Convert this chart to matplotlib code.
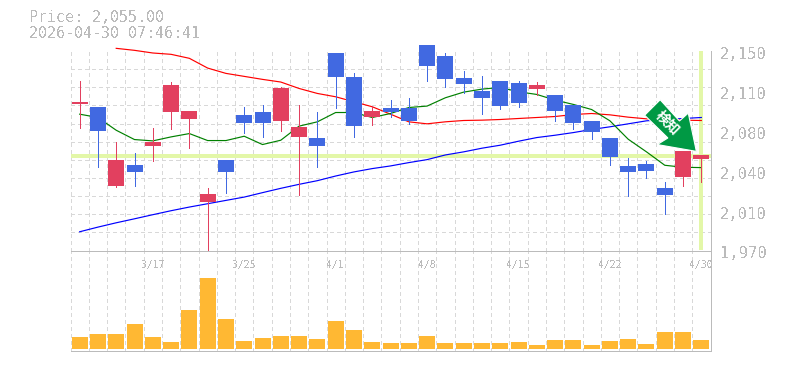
import numpy as np
import matplotlib
matplotlib.use('Agg')
import matplotlib.pyplot as plt
from matplotlib.patches import Polygon
from matplotlib.transforms import Affine2D, ScaledTranslation

plt.rcParams['text.antialiased'] = False
MONO = ['DejaVu Sans Mono']
GREY = '#bbbbbb'
GRID = '#d8d8d8'
UP = '#e2405f'
DOWN = '#4169e1'
VOLC = '#ffb833'
MARK = '#e3f7a8'

title_price = 'Price: 2,055.00'
title_time = '2026-04-30 07:46:41'
last_price = 2055

kinds = ['r','b','r','b','r','r','r','r','b','b','b','r','r','b','b','b','r','b',
         'b','b','b','b','b','b','b','r','b','b','b','b','b','b','b','r','r']
tops = [2103.9,2099.3,2051.4,2046.9,2067.7,2119.2,2095.7,2020.7,2051.4,2092.1,2094.8,2116.5,2081.3,2071.3,2148.2,2126.5,2095.7,2098.4,
        2098.4,2155.4,2145.5,2125.6,2113.8,2122.9,2121.1,2119.3,2110.2,2101.2,2086.7,2071.3,2046.0,2047.8,2026.1,2059.6,2055.9]
bottoms = [2102.1,2077.6,2027.9,2040.6,2064.1,2094.8,2088.5,2013.4,2040.6,2084.9,2084.9,2086.7,2072.2,2064.1,2126.5,2082.2,2090.3,2095.1,
           2086.4,2136.4,2124.7,2120.2,2107.5,2100.3,2103.0,2115.6,2095.7,2084.9,2076.7,2054.1,2040.6,2041.5,2019.8,2036.0,2052.3]
highs = [2122.9,2099.3,2067.7,2057.7,2080.4,2122.0,2095.7,2026.1,2051.4,2099.3,2101.1,2117.1,2101.1,2094.8,2148.2,2130.1,2100.2,2105.7,
         2107.5,2155.4,2148.2,2131.9,2127.4,2122.9,2122.9,2122.0,2110.2,2101.2,2086.7,2071.3,2053.2,2050.5,2031.5,2059.6,2055.9]
lows = [2080.4,2045.1,2027.0,2027.9,2050.5,2079.5,2062.3,1970.0,2021.6,2075.8,2072.2,2077.6,2019.8,2045.1,2098.4,2072.2,2083.1,2090.3,
        2084.0,2122.9,2117.4,2112.0,2093.0,2097.5,2099.4,2110.2,2086.7,2079.2,2070.4,2046.9,2018.9,2035.1,2002.6,2027.9,2031.5]
volumes = [12,15,15,25,12,7,39,71,30,8,11,13,13,10,28,19,7,6,
           6,13,6,6,6,6,7,4,9,9,4,8,10,5,17,17,9]

ma_green = [2093.0,2090.0,2078.5,2070.1,2068.9,2072.5,2075.5,2069.2,2069.2,2073.1,2065.6,2069.5,2082.2,2086.1,2094.5,2094.5,2090.0,2093.6,
            2099.0,2100.3,2107.8,2112.9,2115.6,2117.1,2113.2,2110.8,2105.7,2101.8,2097.2,2087.0,2070.4,2059.0,2046.9,2045.1,2044.8]
ma_red = [2152.4,2150.6,2148.2,2147.0,2143.4,2134.6,2129.8,2127.1,2124.4,2122.0,2116.2,2111.7,2108.7,2104.2,2099.7,2093.0,
          2086.1,2084.3,2086.1,2087.3,2087.6,2088.2,2089.1,2090.0,2090.9,2092.7,2093.6,2092.4,2090.3,2088.8,2087.9,2087.6,2087.3]
ma_blue = [1986.9,1991.1,1995.0,1998.6,2002.3,2005.9,2009.2,2012.2,2015.2,2018.2,2022.2,2026.1,2029.7,2033.0,2037.2,2040.9,2043.9,2046.3,
           2049.3,2052.0,2056.2,2059.0,2062.3,2065.0,2068.6,2071.9,2074.0,2076.4,2079.2,2081.6,2084.3,2087.0,2088.2,2089.1,2090.0]

date_idx = [4, 9, 14, 19, 24, 29, 34]
date_labels = ['3/17', '3/25', '4/1', '4/8', '4/15', '4/22', '4/30']
ytick_pos = [2150, 2114, 2078, 2042, 2006, 1970]
ytick_labels = ['2,150', '2,110', '2,080', '2,040', '2,010', '1,970']
badge_text = '検知'

W, H = 785, 370
fig = plt.figure(figsize=(W/100, H/100), dpi=100)
L, R = 70.5, 710.5
ax = fig.add_axes([L/W, 1-250.5/H, (R-L)/W, 199.5/H])
av = fig.add_axes([L/W, 1-350.5/H, (R-L)/W, 100/H])
ax.set_zorder(3); ax.patch.set_visible(False)
n = len(kinds)
x = np.arange(n)
px = 0.72
thin = 0.85

for a in (ax, av):
    a.set_xlim(-0.5, n-0.5)
    a.set_xticks(x-0.5, minor=True)
    a.grid(True, which='minor', axis='x', color=GRID, lw=px, ls=(0, (4, 4)), antialiased=False)
    a.set_axisbelow(True)
    a.tick_params(which='both', length=0)
    for s in ('left', 'top'):
        a.spines[s].set_visible(False)
    for s in ('right', 'bottom'):
        a.spines[s].set_color(GREY)
        a.spines[s].set_linewidth(px)

ax.set_ylim(1970, 2150)
ax.set_yticks(np.linspace(1970, 2150, 12), minor=True)
ax.grid(True, which='minor', axis='y', color=GRID, lw=px, ls=(0, (4, 4)), antialiased=False)

# price marker lines
ax.axhline(last_price, color=MARK, lw=1.7, zorder=1.5, solid_capstyle='butt', antialiased=False)
ax.plot([n-1, n-1], [1970, 2150], color=MARK, lw=1.7, zorder=1.5, solid_capstyle='butt', antialiased=False)

# moving averages
ax.plot(x, ma_blue, color='#0000ff', lw=thin, zorder=2, clip_on=False)
ax.plot(x[2:], ma_red, color='#ff0000', lw=thin, zorder=2, clip_on=False)

# candles
cols = [UP if k == 'r' else DOWN for k in kinds]
ax.plot(x, ma_green, color='#008000', lw=thin, zorder=2.5, clip_on=False)
ax.vlines(x, lows, highs, colors=cols, lw=px, zorder=3, clip_on=False, antialiased=False)
ax.bar(x, np.array(tops)-np.array(bottoms), bottom=bottoms, width=0.875, color=cols,
       zorder=3, clip_on=False, lw=0)

# badge arrow, pixel offsets from its tip, which is anchored on the chart
outline = [(-35.7, -51.2), (-51.2, -35.7), (-28, -13), (-38.6, -6.4), (0.5, 0.4), (-7.6, -37.9), (-16.4, -30)]
tip = (33.7, 2059.8)
tr = Affine2D().scale(1, -1) + ScaledTranslation(tip[0], tip[1], ax.transData)
ax.add_patch(Polygon(outline, closed=True, transform=tr, facecolor='#009944',
                     edgecolor='white', lw=0.8, zorder=5, clip_on=False))
ax.text(-29, -28.2, badge_text, transform=tr, rotation=-45, rotation_mode='anchor',
        ha='center', va='center', color='white', fontsize=10, fontweight='bold',
        family=['Noto Sans CJK JP', 'DejaVu Sans'], zorder=6, clip_on=False, antialiased=True)

# labels
ax.yaxis.tick_right()
ax.set_yticks(ytick_pos)
ax.set_yticklabels(ytick_labels, family=MONO, fontsize=11.2, color=GREY)
ax.tick_params(axis='y', which='major', pad=7)
shift = ScaledTranslation(0, -2/100, fig.dpi_scale_trans)
for t in ax.get_yticklabels():
    t.set_transform(t.get_transform()+shift)
ax.set_xticks(date_idx)
ax.set_xticklabels(date_labels, family=MONO, fontsize=7, color=GREY)
ax.tick_params(axis='x', which='major', pad=6.5)

# volume
av.bar(x, volumes, width=0.875, color=VOLC, lw=0, zorder=3)
av.set_ylim(-2, 98)
av.set_yticks([])
av.set_xticks([])
av.spines['top'].set_visible(False)

fig.text(29/W, 1-18/H, title_price, family=MONO, fontsize=10.8, color=GREY, va='center')
fig.text(29/W, 1-33/H, title_time, family=MONO, fontsize=10.8, color=GREY, va='center')

fig.savefig('out.png', dpi=100)
